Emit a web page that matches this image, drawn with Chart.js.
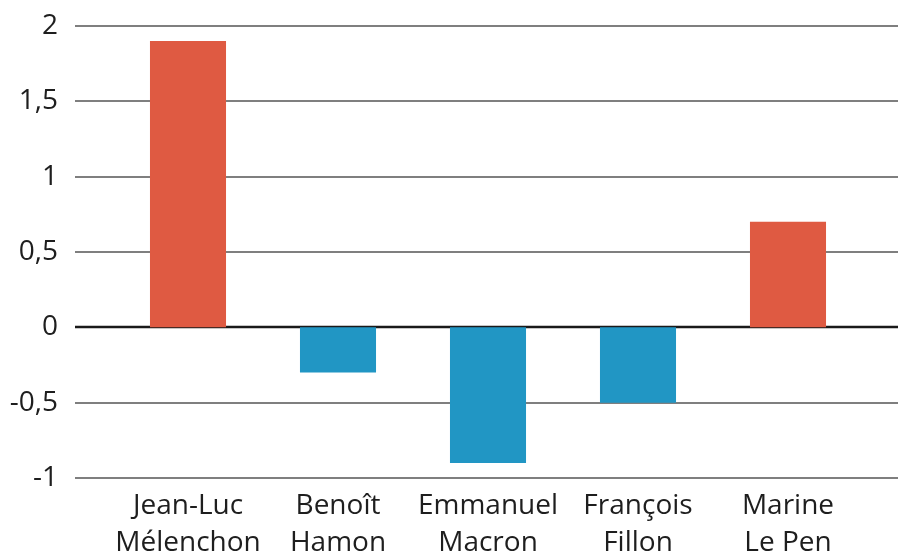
<!DOCTYPE html>
<html>
<head>
<meta charset="utf-8">
<script src="https://cdn.jsdelivr.net/npm/chart.js@4"></script>
<style>
  body { margin: 0; background: #fff; }
</style>
</head>
<body>
<canvas id="container" width="898" height="557"></canvas>
<script>
const candidates = [["Jean-Luc", "Mélenchon"], ["Benoît", "Hamon"], ["Emmanuel", "Macron"], ["François", "Fillon"], ["Marine", "Le Pen"]];
const values = [1.9, -0.3, -0.9, -0.5, 0.7];
const yTicks = [-1, -0.5, 0, 0.5, 1, 1.5, 2];

const red = "#df5a42";
const blue = "#2196c4";

// grid lines run wider than the bar area, so they are drawn here
const gridPlugin = {
  id: "wideGrid",
  beforeDatasetsDraw(chart) {
    const { ctx, chartArea, scales } = chart;
    const y = scales.y;
    ctx.save();
    yTicks.forEach((v) => {
      const py = Math.round(y.getPixelForValue(v));
      ctx.beginPath();
      ctx.lineWidth = v === 0 ? 2.5 : 1.5;
      ctx.strokeStyle = v === 0 ? "#1a1a1a" : "#555";
      ctx.moveTo(chartArea.left - 38, py);
      ctx.lineTo(chart.width, py);
      ctx.stroke();
    });
    ctx.restore();
  },
};

const ctx = document.getElementById("container");
const myChart = new Chart(ctx, {
  type: "bar",
  data: {
    labels: candidates,
    datasets: [
      {
        data: values,
        backgroundColor: values.map((v) => (v >= 0 ? red : blue)),
        categoryPercentage: 1,
        barPercentage: 0.507,
      },
    ],
  },
  options: {
    responsive: false,
    animation: false,
    layout: { padding: { top: 26, right: 35, left: 0, bottom: 0 } },
    plugins: { legend: { display: false }, tooltip: { enabled: false } },
    scales: {
      x: {
        grid: { display: false, drawTicks: false },
        border: { display: false },
        afterFit: (axis) => {
          axis.height = 79;
        },
        ticks: {
          color: "#1e1e1e",
          padding: 10,
          maxRotation: 0,
          autoSkip: false,
          font: { family: "Open Sans", size: 28, lineHeight: 1.3 },
        },
      },
      y: {
        min: -1,
        max: 2,
        afterBuildTicks: (axis) => {
          axis.ticks = yTicks.map((v) => ({ value: v }));
        },
        afterFit: (axis) => {
          axis.width = 113;
          axis.paddingTop = 0;
          axis.paddingBottom = 0;
        },
        grid: { display: false, drawTicks: false },
        border: { display: false },
        ticks: {
          color: "#1e1e1e",
          padding: 55,
          font: { family: "Open Sans", size: 28 },
          callback: (v) => String(v).replace(".", ","),
        },
      },
    },
  },
  plugins: [gridPlugin],
});
</script>
</body>
</html>
